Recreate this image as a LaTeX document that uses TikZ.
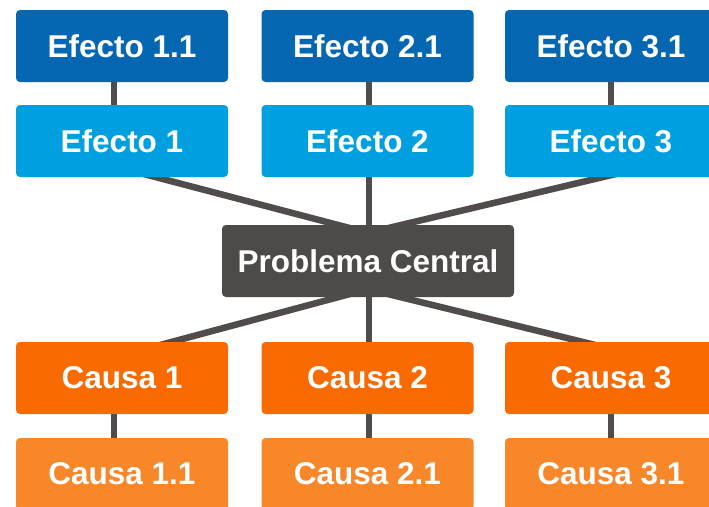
\documentclass[tikz,border=0pt]{standalone}
\usepackage{fontspec}
\setmainfont{Liberation Sans}
\usetikzlibrary{calc,backgrounds}
\definecolor{darkblue}{HTML}{0567B1}
\definecolor{lightblue}{HTML}{00A0E0}
\definecolor{orangeA}{HTML}{F96A00}
\definecolor{orangeB}{HTML}{F8872A}
\definecolor{centralgray}{HTML}{4D4A48}
\definecolor{linegray}{HTML}{4F4C4B}
\begin{document}
\begin{tikzpicture}[x=1pt,y=-1pt,
  box/.style={rectangle, rounded corners=4pt, minimum width=212pt, minimum height=72pt,
    inner sep=0pt, text=white, font=\fontsize{31.5}{36}\selectfont\bfseries},
  eff2/.style={box, fill=darkblue},
  eff1/.style={box, fill=lightblue},
  cau1/.style={box, fill=orangeA},
  cau2/.style={box, fill=orangeB},
  central/.style={box, fill=centralgray, minimum width=292pt},
  link/.style={draw=linegray, line width=6.5pt}]
\useasboundingbox (0,0) rectangle (709,506);
\node[eff2] (e11) at (122,46) {Efecto 1.1};
\node[eff2] (e21) at (367.5,46) {Efecto 2.1};
\node[eff2] (e31) at (611,46) {Efecto 3.1};
\node[eff1] (e1) at (122,141) {Efecto 1};
\node[eff1] (e2) at (367.5,141) {Efecto 2};
\node[eff1] (e3) at (611,141) {Efecto 3};
\node[central] (pc) at (368,261) {Problema Central};
\node[cau1] (c1) at (122,378) {Causa 1};
\node[cau1] (c2) at (367.5,378) {Causa 2};
\node[cau1] (c3) at (611,378) {Causa 3};
\node[cau2] (c11) at (122,474) {Causa 1.1};
\node[cau2] (c21) at (367.5,474) {Causa 2.1};
\node[cau2] (c31) at (611,474) {Causa 3.1};
\coordinate (pn) at ($(pc.north)+(0,8)$);
\coordinate (ps) at ($(pc.south)+(0,-8)$);
\coordinate (a1) at ($(e1.south)+(38,0)$);
\coordinate (a3) at ($(e3.south)+(-13,0)$);
\coordinate (b1) at ($(c1.north)+(54,0)$);
\coordinate (b3) at ($(c3.north)+(-33,0)$);
\begin{pgfonlayer}{background}
\fill[white] (0,0) rectangle (709,506);
\draw[link] ($(e11.south)+(-8,-5)$) -- ($(e1.north)+(-8,5)$);
\draw[link] ($(e21.south)+(1.5,-5)$) -- ($(e2.north)+(1.5,5)$);
\draw[link] ($(e31.south)+(0,-5)$) -- ($(e3.north)+(0,5)$);
\draw[link] ($(c1.south)+(-8,-5)$) -- ($(c11.north)+(-8,5)$);
\draw[link] ($(c2.south)+(1.5,-5)$) -- ($(c21.north)+(1.5,5)$);
\draw[link] ($(c3.south)+(0,-5)$) -- ($(c31.north)+(0,5)$);
\draw[link] ($(e2.south)+(1.5,-5)$) -- ($(pc.north)+(1,5)$);
\draw[link] ($(pc.south)+(1,-5)$) -- ($(c2.north)+(1.5,5)$);
\draw[link] ($(pc.north)!1.15!(a1)$) -- ($(a1)!1.04!(pn)$);
\draw[link] ($(pc.north)!1.15!(a3)$) -- ($(a3)!1.04!(pn)$);
\draw[link] ($(pc.south)!1.15!(b1)$) -- ($(b1)!1.04!(ps)$);
\draw[link] ($(pc.south)!1.15!(b3)$) -- ($(b3)!1.04!(ps)$);
\end{pgfonlayer}
\end{tikzpicture}
\end{document}
